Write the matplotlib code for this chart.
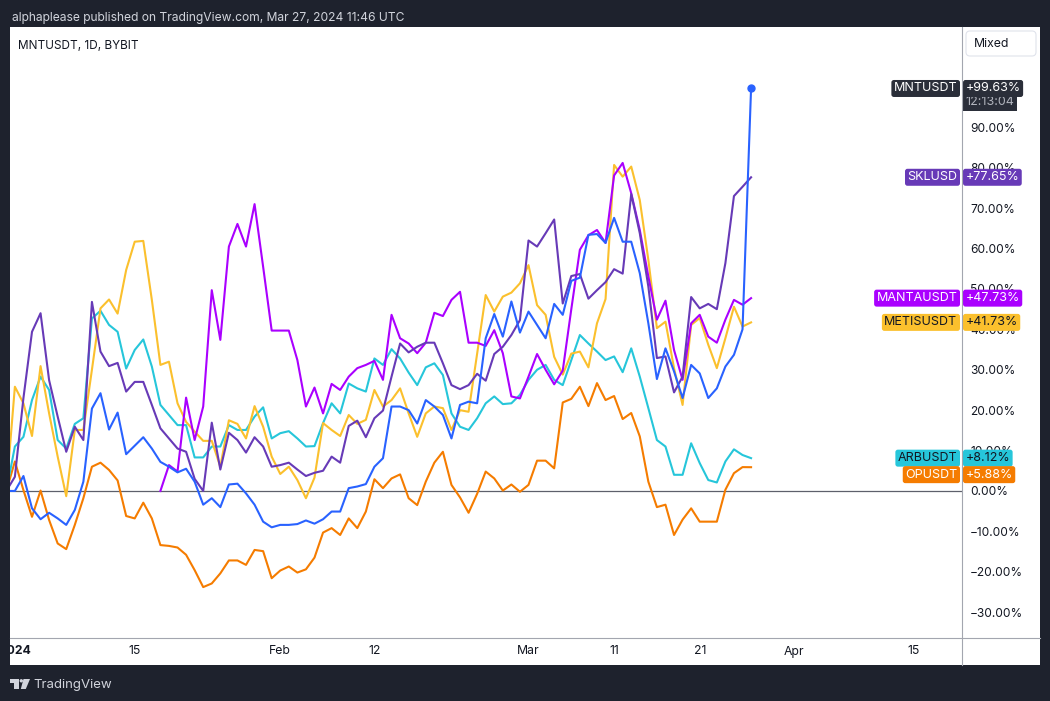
import numpy as np
import matplotlib
matplotlib.use('Agg')
import matplotlib.pyplot as plt
import matplotlib.dates as mdates
from matplotlib.patches import Rectangle, Polygon, Circle, FancyBboxPatch
from matplotlib.transforms import blended_transform_factory

plt.rcParams['font.family'] = ['Inter', 'DejaVu Sans']

W, H = 1050, 701
BG = '#1e222d'
TXT = '#131722'
NAN = np.nan

# daily closes, Dec 31 2023 .. Mar 27 2024, % change
dates = np.arange('2023-12-31', '2024-03-28', dtype='datetime64[D]')

mnt = [0, 0, 3.7, -4.3, -7.0, -5.4, -6.8, -8.4, -4.7, 2.3,
       20.4, 24.2, 15.2, 19.4, 9.1, 11.2, 13.3, 10.5, 7.2, 6.0,
       4.6, 5.5, 2.3, -3.4, -1.8, -4.0, 1.6, 1.8, -0.6, -3.4,
       -7.6, -9.0, -8.4, -8.4, -8.2, -7.3, -8.1, -7.0, -5.1, -5.1,
       0.7, 1.1, 1.7, 6.0, 8.1, 20.9, 20.9, 20.0, 16.7, 22.5,
       20.9, 18.8, 13.0, 21.3, 22.1, 21.7, 37.8, 43.8, 38.2, 46.9,
       39.2, 44.4, 41.1, 37.8, 46.3, 43.6, 52.0, 52.8, 63.4, 63.6,
       61.4, 67.6, 61.7, 61.7, 53.9, 41.5, 27.7, 35.3, 29.6, 23.0,
       31.2, 29.1, 23.0, 25.4, 30.8, 33.7, 40.0, 99.63]

skl = [0, 3.5, 23, 39.4, 44, 27.4, 18.4, 9.7, 15.9, 12.6,
       46.8, 34.5, 30.9, 31.7, 24.6, 27, 27, 21.3, 15.5, 13,
       10.5, 9.7, 3, 0, 16.9, 5.3, 14.4, 12.6, 9.5, 13.3,
       11, 6, 6.4, 7, 5.3, 3.7, 4.5, 5.0, 8.5, 7.0,
       16.1, 17.4, 13.3, 18, 19.9, 28.3, 36.5, 34.3, 35.7, 36.7,
       36.7, 31.6, 26.2, 25.2, 26.2, 29, 27.3, 33.9, 35.7, 38.6,
       42.3, 62, 60.5, 63.8, 67.2, 46.4, 53.2, 53.7, 47.6, 49.7,
       51.7, 54.9, 53.8, 73.5, 63.8, 50.6, 32.9, 33.3, 24.4, 28.3,
       48, 45.2, 46.3, 45, 56.4, 73, 75.3, 77.65]

manta = [NAN] * 18 + [
       0, 6.4, 4.8, 23.1, 12.6, 20.9, 49.7, 37.4, 60.5, 66.1,
       60.5, 71, 55.5, 39.7, 39.7, 39.7, 32.4, 20.9, 25.6, 19.2,
       26.5, 25, 28.3, 30.4, 31.2, 32.2, 27.5, 43.6, 37.8, 36.5,
       34.1, 36.7, 44.1, 43.3, 47.3, 49.3, 36.7, 36.7, 35.9, 39.8,
       34.1, 23.4, 22.9, 28.3, 33.9, 30, 26.4, 29.8, 45, 59.7,
       63.3, 64.6, 61.4, 78.1, 81.2, 73.7, 64.6, 53.1, 42.4, 47.1,
       34.9, 27.5, 41.5, 43.6, 38.2, 36.7, 42.4, 47.3, 46.1, 47.73]

metis = [0, 25.8, 21.7, 13.6, 30.9, 19.2, 8.5, -1.3, 15.1, 15.1,
         30, 45.2, 47.4, 43.9, 54.7, 61.7, 61.9, 47.3, 31.2, 32,
         21.7, 17.1, 14.7, 12.4, 12.4, 6, 17.5, 16.6, 13, 21,
         15.9, 8.5, 4.2, 6, 2.7, -1.8, 3.3, 16.8, 15.1, 13.6,
         18.8, 16.6, 17.6, 25, 20.9, 22.5, 25.4, 19.2, 13.4, 19.2,
         20.9, 20.5, 15.1, 20, 19.6, 34, 48.5, 44.4, 48.1, 49.1,
         51.4, 55.9, 46, 43.6, 33.2, 28.8, 34, 34.5, 30.6, 41.5,
         47.5, 80.7, 77.8, 80.3, 72, 57.2, 40.3, 41.9, 30.4, 21.3,
         41.1, 42.8, 36.2, 30.4, 37.8, 45.6, 40.7, 41.73]

arb = [0, 11, 13.4, 22.5, 28.3, 25, 12.6, 10.5, 16.6, 18,
       42.7, 44.6, 41.1, 39.4, 30.3, 34.9, 37.5, 30.8, 21.3, 18.8,
       16.3, 16.3, 8.3, 8.3, 11, 11, 16.3, 15.1, 15.1, 18.4,
       20.7, 13, 14.3, 14.8, 13, 11, 11.1, 16.8, 21.7, 19.2,
       26.6, 25.4, 24.6, 32.8, 31.2, 35.1, 32.8, 29.3, 26.2, 30.6,
       31.6, 28.7, 19.2, 15.9, 15.1, 18, 21.7, 23.4, 21.5, 21.7,
       23.8, 27.5, 30, 31.2, 27.5, 26.2, 32.4, 38.6, 36.5, 34.5,
       32.4, 33.3, 29.4, 35.3, 28.3, 20.5, 12.6, 11, 4, 4,
       11.8, 6.9, 2.7, 2.1, 7.3, 10.3, 8.9, 8.12]

op = [0, 7.3, 0.2, -6.4, 0.1, -7.2, -13, -14.4, -8.4, -1.8,
      6, 7, 5.2, 2.6, -6.2, -6.8, -2.9, -6.8, -13.4, -13.6,
      -14, -15.8, -19.6, -23.8, -22.9, -20.4, -17.2, -17.2, -18.3, -14.6,
      -14.9, -21.6, -19.7, -18.7, -20.2, -19.4, -16.5, -10.3, -9.2, -10.9,
      -6.8, -9.2, -5.1, 2.9, 0.7, 3.1, 4.1, -1.8, -3.5, 2.3,
      7, 9.7, 1.5, -1.6, -5.4, -0.7, 4.8, 3.1, 0.1, 1.6,
      -0.2, 1.5, 7.5, 7.5, 5.6, 21.9, 22.8, 25.8, 21, 26.7,
      22.5, 23.5, 17.8, 19.3, 13.5, 2.3, -4, -3.4, -10.9, -7.1,
      -4.3, -7.6, -7.6, -7.6, 0.3, 4.4, 5.9, 5.88]

names = ['MNTUSDT', 'SKLUSD', 'MANTAUSDT', 'METISUSDT', 'ARBUSDT', 'OPUSDT']
series = [mnt, skl, manta, metis, arb, op]
line_colors = ['#2962ff', '#673ab7', '#aa00ff', '#fbc02d', '#26c6da', '#f57c00']
label_colors = ['#2a2e39', '#673ab7', '#aa00ff', '#fbc02d', '#26c6da', '#f57c00']
label_text = ['white', 'white', 'white', TXT, TXT, 'white']
countdown = '12:13:04'

tick_dates = ['2024-01-01', '2024-01-15', '2024-02-01', '2024-02-12', '2024-03-01',
              '2024-03-11', '2024-03-21', '2024-04-01', '2024-04-15']
tick_labels = ['2024', '15', 'Feb', '12', 'Mar', '11', '21', 'Apr', '15']
y_ticks = list(range(-30, 100, 10))


def fx(px):
    return px / W


def fy(py):
    return 1 - py / H


fig = plt.figure(figsize=(W / 100, H / 100), dpi=100, facecolor=BG)

# white chart panel, behind every axes
fig.patches.append(Rectangle((fx(10), fy(665)), (1040 - 10) / W, (665 - 27) / H,
                             transform=fig.transFigure, facecolor='white',
                             edgecolor='none', zorder=-10))

ax = fig.add_axes([fx(10), fy(638), (962 - 10) / W, (638 - 27) / H], zorder=1)
ax.set_facecolor('none')
for s in ax.spines.values():
    s.set_visible(False)

x0 = mdates.date2num(np.datetime64('2024-01-01'))
ax.set_xlim(x0 - 0.57, x0 + 110.64)
ax.set_ylim(-36.4, 114.85)
ax.axhline(0, color='#5d606b', lw=0.9, zorder=1)

xd = mdates.date2num(dates)
for vals, c in reversed(list(zip(series, line_colors))):
    ax.plot(xd, vals, color=c, lw=1.5, zorder=3)
ax.plot(xd[-1], mnt[-1], 'o', ms=5, color=line_colors[0], zorder=4)

ax.set_xticks([])
ax.yaxis.tick_right()
ax.set_yticks(y_ticks)
ax.set_yticklabels([f'{v:.2f}%'.replace('-', '\u2212') for v in y_ticks])
ax.tick_params(axis='y', length=0, pad=5.8, labelsize=8.6, labelcolor=TXT)

# labels on the right price scale
trans = blended_transform_factory(ax.transAxes, ax.transData)
pt = 72 / 100
gap = 16.5 / ((638 - 27) / (114.85 + 36.4))
order = sorted(range(len(names)), key=lambda i: -series[i][-1])
prev = None
for i in order:
    last = series[i][-1]
    y = last if prev is None or prev - last >= gap else prev - gap
    prev = y
    box = dict(boxstyle='round,pad=0.2,rounding_size=0.2', fc=label_colors[i], ec='none')
    ax.annotate(names[i], xy=(1, y), xycoords=trans, xytext=(-4.5 * pt, 0),
                textcoords='offset points', ha='right', va='center', fontsize=9,
                color=label_text[i], bbox=box, zorder=10, annotation_clip=False)
    ax.annotate(f'{last:+.2f}%', xy=(1, y), xycoords=trans, xytext=(3.5 * pt, 0),
                textcoords='offset points', ha='left', va='center', fontsize=9,
                color=label_text[i], bbox=box, zorder=10, annotation_clip=False)
    if i == 0:
        box2 = dict(boxstyle='square,pad=0.2', fc=label_colors[i], ec='none')
        ax.annotate(countdown, xy=(1, y), xycoords=trans, xytext=(3.5 * pt, -13.7 * pt),
                    textcoords='offset points', ha='left', va='center', fontsize=9,
                    color='#b2b5be', bbox=box2, zorder=9, annotation_clip=False)

# date strip below the chart
xs = fig.add_axes([fx(10), fy(665), (962 - 10) / W, (665 - 638) / H], zorder=1)
xs.set_xlim(ax.get_xlim())
xs.set_ylim(0, 1)
xs.axis('off')
for d, lab in zip(tick_dates, tick_labels):
    xs.text(mdates.date2num(np.datetime64(d)), 0.5, lab, ha='center', va='center',
            fontsize=8.8, color=TXT, fontweight='bold' if lab == '2024' else 'normal',
            clip_on=True)

# frame, header and footer in pixel coordinates
ov = fig.add_axes([0, 0, 1, 1], zorder=5)
ov.set_xlim(0, W)
ov.set_ylim(H, 0)
ov.axis('off')
ov.plot([962, 962], [27, 665], color='#a3a6af', lw=0.8)
ov.plot([10, 1040], [638, 638], color='#a3a6af', lw=0.8)

ov.text(12, 20.5, 'alphaplease published on TradingView.com, Mar 27, 2024 11:46 UTC',
        color='#d1d4dc', fontsize=8.7, va='baseline')
ov.text(18, 49, 'MNTUSDT, 1D, BYBIT', color=TXT, fontsize=8.5, va='baseline')

ov.add_patch(FancyBboxPatch((966, 31), 70, 25, boxstyle='round,pad=0,rounding_size=4',
                            fc='white', ec='#e0e3eb', lw=0.8))
ov.text(992, 44, 'Mixed', ha='center', va='center', fontsize=8.8, color=TXT)

logo = '#d1d4dc'
ov.add_patch(Polygon([(10, 679), (19.3, 679), (19.3, 689), (14.3, 689), (14.3, 682.5), (10, 682.5)],
                     closed=True, fc=logo, ec='none'))
ov.add_patch(Circle((21.3, 680.8), 1.7, fc=logo, ec='none'))
ov.add_patch(Polygon([(23.5, 679), (30, 679), (25.8, 689), (20.8, 689)], closed=True, fc=logo, ec='none'))
ov.text(33, 688, 'TradingView', color=logo, fontsize=9.5, va='baseline')

fig.savefig('out.png', dpi=100, facecolor=BG)
